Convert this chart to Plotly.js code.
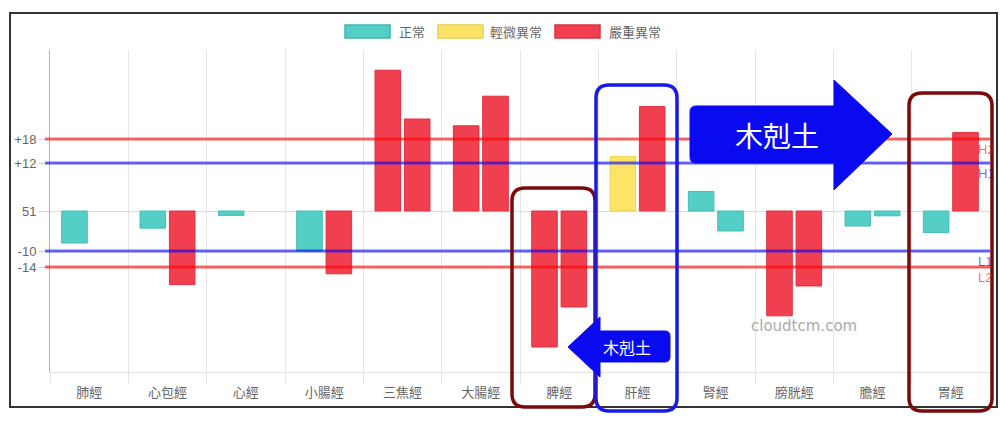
<!DOCTYPE html>
<html>
<head>
<meta charset="utf-8">
<script src="https://cdn.plot.ly/plotly-3.0.1.min.js"></script>
<style>
  html, body { margin: 0; padding: 0; background: #fff; }
  #chart { width: 1000px; height: 425px; }
</style>
</head>
<body>
<div id="chart"></div>
<script>
// ---- data ----
const categories = ['肺經','心包經','心經','小腸經','三焦經','大腸經','脾經','肝經','腎經','膀胱經','膽經','胃經'];
const leftValues  = [-8, -4.3, -1.1, -10, 35.2, 21.3, -34, 13.6, 4.9, -26.2, -3.75, -5.4];
const rightValues = [null, -18.4, null, -15.7, 23, 28.7, -24, 26.1, -5, -18.75, -1.2, 19.6];
const yTickVals = [18, 12, 0, -10, -14];
const yTickText = ['+18', '+12', '51', '-10', '-14'];
const refNames  = ['H2', 'H1', 'L1', 'L2'];
const refValues = [18, 12, -10, -14];
const legendLabels = ['正常', '輕微異常', '嚴重異常'];
const arrowText = '木剋土';
const watermark = 'cloudtcm.com';

// ---- styles ----
const C_OK = '#55CEC6', C_OK_L = '#45BDB5';
const C_MILD = '#FDE466', C_MILD_L = '#F0D450';
const C_BAD = '#F0404F', C_BAD_L = '#E0303F';
const refColors = ['rgba(255,0,0,0.6)', 'rgba(0,0,255,0.6)', 'rgba(0,0,255,0.6)', 'rgba(255,0,0,0.6)'];
const FONT = 'Liberation Sans, Noto Sans CJK TC, sans-serif';

function status(v) {
  if (v === null) return 0;
  if (v > refValues[0] || v < refValues[3]) return 2;
  if (v > refValues[1] || v < refValues[2]) return 1;
  return 0;
}
const fills = [C_OK, C_MILD, C_BAD];
const lines = [C_OK_L, C_MILD_L, C_BAD_L];

// ---- geometry helpers (pixel -> paper) ----
const W = 1000, H = 425;
const M = { l: 50, r: 10, t: 50, b: 53 };
const PW = W - M.l - M.r, PH = H - M.t - M.b;
const px = x => (x - M.l) / PW;
const py = y => (H - M.b - y) / PH;
const P = (x, y) => px(x).toFixed(5) + ',' + py(y).toFixed(5);

function roundRect(x0, y0, x1, y1, r) {
  return 'M' + P(x0 + r, y0) + ' L' + P(x1 - r, y0) + ' Q' + P(x1, y0) + ' ' + P(x1, y0 + r) +
    ' L' + P(x1, y1 - r) + ' Q' + P(x1, y1) + ' ' + P(x1 - r, y1) +
    ' L' + P(x0 + r, y1) + ' Q' + P(x0, y1) + ' ' + P(x0, y1 - r) +
    ' L' + P(x0, y0 + r) + ' Q' + P(x0, y0) + ' ' + P(x0 + r, y0) + ' Z';
}

const traces = [
  {
    type: 'bar', x: categories, y: leftValues, name: 'left', showlegend: false, hoverinfo: 'skip',
    marker: { color: leftValues.map(v => fills[status(v)]), line: { color: leftValues.map(v => lines[status(v)]), width: 1 } }
  },
  {
    type: 'bar', x: categories, y: rightValues, name: 'right', showlegend: false, hoverinfo: 'skip',
    marker: { color: rightValues.map(v => fills[status(v)]), line: { color: rightValues.map(v => lines[status(v)]), width: 1 } }
  }
];

const shapes = [];
const annotations = [];

// outer frame
shapes.push({ type: 'rect', xref: 'paper', yref: 'paper', x0: px(10), x1: px(997), y0: py(13), y1: py(407),
  line: { color: '#333', width: 2 }, fillcolor: 'rgba(0,0,0,0)', layer: 'above' });

// reference lines + labels
refValues.forEach((v, i) => {
  shapes.push({ type: 'line', xref: 'paper', yref: 'y', x0: px(45), x1: 1, y0: v, y1: v,
    line: { color: refColors[i], width: 3 }, layer: 'above' });
  annotations.push({ xref: 'paper', yref: 'y', x: px(976), y: v, xanchor: 'left', yanchor: 'top', yshift: -1,
    text: refNames[i], showarrow: false, font: { family: FONT, size: 13, color: refColors[i] } });
});

// custom legend
const legendBoxes = [[345, 390], [438, 483], [555, 600]];
const legendFill = [C_OK, C_MILD, C_BAD];
const legendLine = ['#3FB7AF', '#EBCF4F', '#D9303E'];
const legendTextX = [397, 488, 607];
legendLabels.forEach((t, i) => {
  shapes.push({ type: 'rect', xref: 'paper', yref: 'paper', x0: px(legendBoxes[i][0]), x1: px(legendBoxes[i][1]),
    y0: py(38), y1: py(25), fillcolor: legendFill[i], line: { color: legendLine[i], width: 1.5 } });
  annotations.push({ xref: 'paper', yref: 'paper', x: px(legendTextX[i]), y: py(32), xanchor: 'left', yanchor: 'middle',
    text: t, showarrow: false, font: { family: FONT, size: 13, color: '#666' } });
});

// highlight boxes
shapes.push({ type: 'path', xref: 'paper', yref: 'paper', path: roundRect(512, 188, 595, 407, 13),
  line: { color: '#7A0A0A', width: 3.5 }, fillcolor: 'rgba(0,0,0,0)', layer: 'above' });
shapes.push({ type: 'path', xref: 'paper', yref: 'paper', path: roundRect(596, 85, 677, 411, 13),
  line: { color: '#1A1AE6', width: 3.5 }, fillcolor: 'rgba(0,0,0,0)', layer: 'above' });
shapes.push({ type: 'path', xref: 'paper', yref: 'paper', path: roundRect(909, 93, 992, 411, 13),
  line: { color: '#7A0A0A', width: 3.5 }, fillcolor: 'rgba(0,0,0,0)', layer: 'above' });

// big right arrow
shapes.push({ type: 'path', xref: 'paper', yref: 'paper',
  path: 'M' + P(690, 112) + ' Q' + P(690, 106) + ' ' + P(696, 106) + ' L' + P(834, 106) + ' L' + P(834, 80) +
        ' L' + P(892, 134) + ' L' + P(834, 190) + ' L' + P(834, 163) + ' L' + P(696, 163) +
        ' Q' + P(690, 163) + ' ' + P(690, 157) + ' Z',
  fillcolor: '#0A0AF0', line: { color: '#0A0AF0', width: 1 }, layer: 'above' });
annotations.push({ xref: 'paper', yref: 'paper', x: px(777), y: py(135), xanchor: 'center', yanchor: 'middle',
  text: arrowText, showarrow: false, font: { family: 'Noto Sans CJK TC, sans-serif', size: 28, color: '#fff' } });

// small left arrow
shapes.push({ type: 'path', xref: 'paper', yref: 'paper',
  path: 'M' + P(568, 347) + ' L' + P(600, 317) + ' L' + P(600, 331) + ' L' + P(665, 331) +
        ' Q' + P(670, 331) + ' ' + P(670, 336) + ' L' + P(670, 357) + ' Q' + P(670, 362) + ' ' + P(665, 362) +
        ' L' + P(600, 362) + ' L' + P(600, 377) + ' Z',
  fillcolor: '#0A0AF0', line: { color: '#0A0AF0', width: 1 }, layer: 'above' });
annotations.push({ xref: 'paper', yref: 'paper', x: px(627), y: py(347), xanchor: 'center', yanchor: 'middle',
  text: arrowText, showarrow: false, font: { family: 'Noto Sans CJK TC, sans-serif', size: 16, color: '#fff' } });

// watermark
annotations.push({ xref: 'paper', yref: 'paper', x: px(804), y: py(326), xanchor: 'center', yanchor: 'middle',
  text: watermark, showarrow: false, font: { family: 'DejaVu Sans, sans-serif', size: 15, color: '#aaa' } });

const layout = {
  width: W, height: H,
  margin: M,
  paper_bgcolor: '#fff', plot_bgcolor: '#fff',
  showlegend: false,
  barmode: 'group', bargap: 0.25, bargroupgap: 0.13,
  font: { family: FONT, color: '#666', size: 13 },
  xaxis: {
    type: 'category', range: [-0.5, 11.5], tickson: 'boundaries',
    ticks: 'outside', ticklen: 11, tickcolor: '#e6e6e6', tickwidth: 1,
    ticklabelstandoff: 8,
    showgrid: true, gridcolor: '#e6e6e6', gridwidth: 1,
    showline: true, linecolor: '#e0e0e0', linewidth: 1,
    tickfont: { family: FONT, size: 13, color: '#666' }, fixedrange: true
  },
  yaxis: {
    range: [-40.25, 40.25], tickvals: yTickVals, ticktext: yTickText,
    ticks: 'outside', ticklen: 10, tickcolor: '#d0d0d0', tickwidth: 1,
    showgrid: true, gridcolor: '#dcdcdc', gridwidth: 1, zeroline: false,
    showline: true, linecolor: '#b0b0b0', linewidth: 1,
    tickfont: { family: FONT, size: 13, color: '#666' }, fixedrange: true
  },
  shapes: shapes,
  annotations: annotations
};

Plotly.newPlot('chart', traces, layout, { staticPlot: true, displayModeBar: false });
</script>
</body>
</html>
